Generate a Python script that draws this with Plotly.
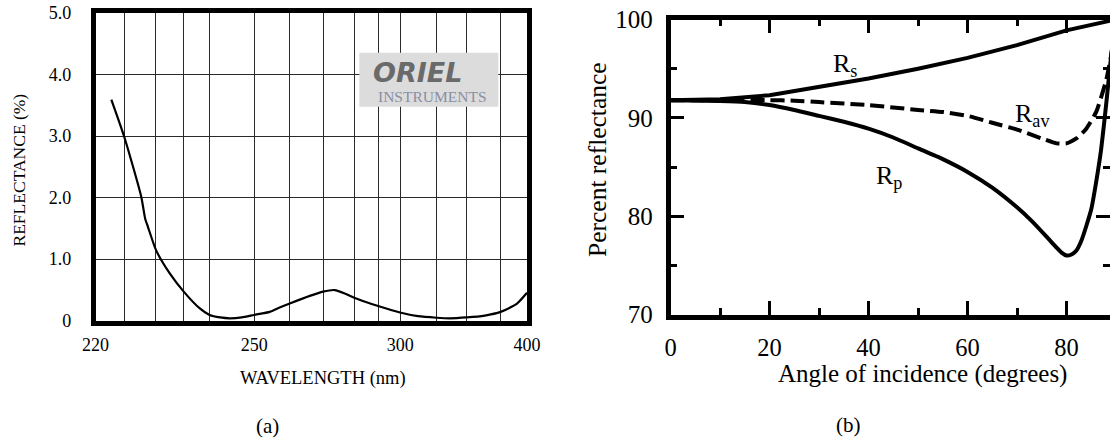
import plotly.graph_objects as go

W, H = 1110, 447

# ---------------- Panel (a): reflectance vs wavelength (printed non-linear scale) ----------------
# positions along the printed wavelength scale (scale units, 220 at left frame, 400 at right frame)
wl_pos = [226.6, 232.2, 239.1, 240.7, 241.9, 245.3, 250.9, 256.8, 263.4, 267.6,
          272.0, 276.0, 281.0, 286.1, 292.7, 296.8, 301.3, 309.4, 314.9, 319.8,
          324.0, 327.9, 332.8, 337.9, 347.0, 354.5, 362.3, 367.8, 374.8, 382.4,
          389.0, 395.7, 400.0]
refl = [3.59, 2.96, 2.01, 1.66, 1.52, 1.14, 0.77, 0.47, 0.20, 0.09,
        0.05, 0.036, 0.05, 0.09, 0.14, 0.21, 0.28, 0.40, 0.47, 0.495,
        0.44, 0.37, 0.30, 0.235, 0.13, 0.07, 0.045, 0.036, 0.05, 0.08,
        0.14, 0.27, 0.45]
wl_grid = [232.3, 245.0, 256.6, 267.5, 286.2, 301.0, 315.0, 327.9, 337.9, 347.1,
           362.3, 374.8, 389.1]
wl_tick_pos = [220, 286.2, 347.1, 400]
wl_tick_text = ["220", "250", "300", "400"]
refl_tick_vals = [0, 1, 2, 3, 4, 5]
refl_tick_text = ["0", "1.0", "2.0", "3.0", "4.0", "5.0"]

# ---------------- Panel (b): percent reflectance vs angle of incidence ----------------
ang_s = [0, 10, 20, 30, 40, 50, 60, 70, 80, 90]
r_s = [91.8, 91.9, 92.3, 93.1, 94.0, 95.0, 96.1, 97.4, 98.9, 100.0]

ang_p = [0, 10, 15, 20, 25, 30, 35, 40, 45, 50, 55, 60, 65, 70, 73, 76, 78, 79, 80,
         81, 82, 83, 84, 85, 86, 87, 88, 89, 90]
r_p = [91.8, 91.7, 91.6, 91.3, 90.8, 90.2, 89.6, 88.9, 88.0, 86.9, 85.8, 84.5, 82.9,
       80.9, 79.5, 77.9, 76.8, 76.3, 76.0, 76.1, 76.5, 77.5, 79.0, 80.7, 83.5, 86.8,
       91.3, 96.2, 100.0]

ang_av = [0, 10, 20, 25, 30, 40, 50, 55, 60, 65, 70, 75, 78, 80, 82, 84, 86, 88, 89, 90]
r_av = [91.8, 91.8, 91.8, 91.75, 91.6, 91.3, 90.8, 90.6, 90.2, 89.5, 88.8, 87.9,
        87.4, 87.4, 87.9, 88.9, 90.6, 93.8, 96.3, 100.0]

SERIF = "Liberation Serif"

def px(x):
    return x / W

def py(y):
    return 1 - y / H

A_L, A_R, A_T, A_B = 95.5, 527.0, 13.0, 320.5
B_L, B_T, B_B = 670.5, 19.5, 314.5
B_PXDEG = 4.95
b_xmax = (W - B_L) / B_PXDEG

fig = go.Figure()

fig.add_trace(go.Scatter(
    x=wl_pos, y=refl, mode="lines",
    line=dict(color="black", width=2.2, shape="spline", smoothing=0.6),
    xaxis="x", yaxis="y", showlegend=False, hoverinfo="skip"))

fig.add_trace(go.Scatter(
    x=ang_s, y=r_s, mode="lines", line=dict(color="black", width=4),
    xaxis="x2", yaxis="y2", showlegend=False, hoverinfo="skip"))
fig.add_trace(go.Scatter(
    x=ang_p, y=r_p, mode="lines", line=dict(color="black", width=4, shape="spline", smoothing=0.5),
    xaxis="x2", yaxis="y2", showlegend=False, hoverinfo="skip"))
fig.add_trace(go.Scatter(
    x=ang_av, y=r_av, mode="lines",
    line=dict(color="black", width=4, dash="14px,6px", shape="spline", smoothing=0.5),
    xaxis="x2", yaxis="y2", showlegend=False, hoverinfo="skip"))

fig.update_layout(
    template="none",
    width=W, height=H,
    margin=dict(l=0, r=0, t=0, b=0, pad=0, autoexpand=False),
    paper_bgcolor="white", plot_bgcolor="white",
    showlegend=False,
    font=dict(family=SERIF, color="black"),
    xaxis=dict(
        domain=[px(A_L), px(A_R)], anchor="y", automargin=False,
        range=[220, 400], showgrid=False, zeroline=False,
        tickmode="array", tickvals=wl_tick_pos, ticktext=wl_tick_text,
        ticks="", tickfont=dict(family=SERIF, size=18, color="black"),
        ticklabelstandoff=4,
        showline=True, linecolor="black", linewidth=4.5, mirror=True,
        minor=dict(tickmode="array", tickvals=wl_grid, showgrid=True,
                   gridcolor="#2a2a2a", gridwidth=1.1, ticks=""),
    ),
    yaxis=dict(
        domain=[py(A_B), py(A_T)], anchor="x", automargin=False,
        range=[0, 5], zeroline=False,
        tickmode="array", tickvals=refl_tick_vals, ticktext=refl_tick_text,
        showgrid=True, gridcolor="#2a2a2a", gridwidth=1.1,
        ticks="", tickfont=dict(family=SERIF, size=18, color="black"),
        ticklabelstandoff=16,
        showline=True, linecolor="black", linewidth=4.5, mirror=True,
    ),
    xaxis2=dict(
        domain=[px(B_L), 1.0], anchor="y2", automargin=False,
        range=[0, b_xmax], showgrid=False, zeroline=False,
        tickmode="linear", tick0=0, dtick=20,
        ticks="inside", ticklen=14, tickwidth=2.5, tickcolor="black",
        tickfont=dict(family=SERIF, size=24.5, color="black"),
        ticklabelstandoff=7,
        showline=True, linecolor="black", linewidth=4.5, mirror="allticks",
        minor=dict(dtick=10, ticks="inside", ticklen=7, tickwidth=2.5, tickcolor="black", showgrid=False),
    ),
    yaxis2=dict(
        domain=[py(B_B), py(B_T)], anchor="x2", automargin=False,
        range=[70, 100], showgrid=False, zeroline=False,
        tickmode="linear", tick0=70, dtick=10,
        ticks="inside", ticklen=14, tickwidth=2.5, tickcolor="black",
        tickfont=dict(family=SERIF, size=25, color="black"),
        ticklabelstandoff=8,
        showline=True, linecolor="black", linewidth=4.5, mirror="allticks",
        minor=dict(dtick=5, ticks="inside", ticklen=7, tickwidth=2.5, tickcolor="black", showgrid=False),
    ),
)

# Oriel logo box
fig.add_shape(type="rect", xref="paper", yref="paper",
              x0=px(359.3), x1=px(498.3), y0=py(106.7), y1=py(52.7),
              fillcolor="#dcdcdc", line=dict(width=0), layer="above")

def note(text, x, y, size, family=SERIF, color="black", angle=0, xref="paper", yref="paper"):
    return dict(text=text, xref=xref, yref=yref, x=x, y=y, textangle=angle,
                xanchor="center", yanchor="middle", showarrow=False,
                font=dict(family=family, size=size, color=color))

ann = [
    note("<b><i>ORIEL</i></b>", px(417.5), py(72.5), 27, family="DejaVu Sans", color="#6a6a6a"),
    note("INSTRUMENTS", px(432.5), py(96.5), 15.5, color="#8a8fa3"),
    # axis titles
    note("REFLECTANCE (%)", px(18.5), py(170), 17.5, angle=-90),
    note("WAVELENGTH (nm)", px(323), py(378), 18.5),
    note("Percent reflectance", px(597), py(159), 25.5, angle=-90),
    note("Angle of incidence (degrees)", px(922), py(374), 25),
    # curve labels
    note("R<sub>s</sub>", 35.3, 95.4, 26, xref="x2", yref="y2"),
    note("R<sub>av</sub>", 73.2, 90.3, 26, xref="x2", yref="y2"),
    note("R<sub>p</sub>", 44.2, 84.0, 26, xref="x2", yref="y2"),
    # sub-figure captions
    note("(a)", px(267), py(426), 21),
    note("(b)", px(848), py(425), 21),
]

fig.update_layout(annotations=ann)

fig.write_html("out.html")
